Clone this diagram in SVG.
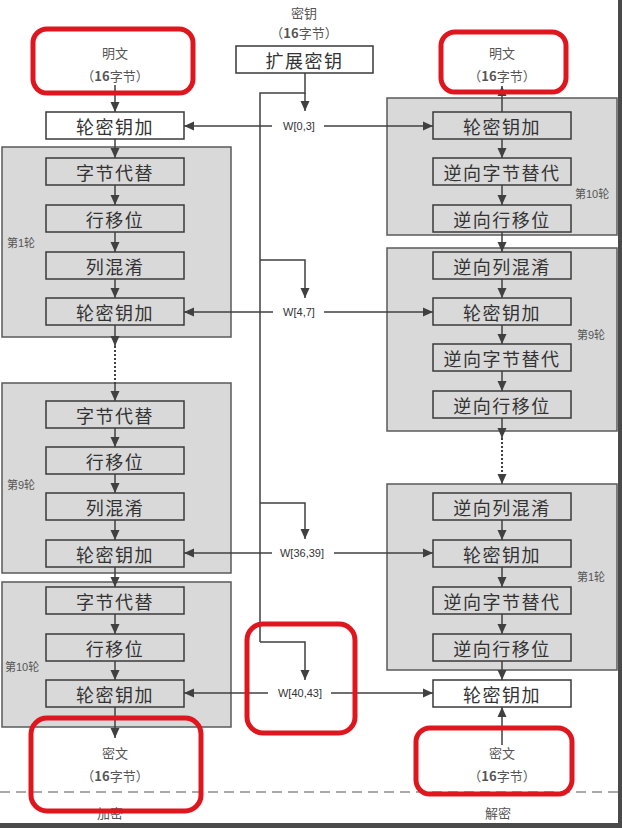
<svg xmlns="http://www.w3.org/2000/svg" width="622" height="828" viewBox="0 0 622 828">
<defs>
<marker id="ah" viewBox="0 0 10 10" refX="10" refY="5" markerWidth="10" markerHeight="10" markerUnits="userSpaceOnUse" orient="auto">
<path d="M0,0.5 L10,5 L0,9.5 z" fill="#404040"/>
</marker>
<style>
.panel{fill:#d9d9d9;stroke:#5a5a5a;stroke-width:1.5}
.box{fill:#d9d9d9;stroke:#3a3a3a;stroke-width:1.5}
.wbox{fill:#ffffff;stroke:#3a3a3a;stroke-width:1.5}
.bt{font-family:"Noto Sans CJK SC",sans-serif;font-size:18px;fill:#333;text-anchor:middle;dominant-baseline:central;letter-spacing:1.5px}
.st{font-family:"Noto Sans CJK SC",sans-serif;font-size:13px;fill:#555;text-anchor:middle;dominant-baseline:central}
.rl{font-family:"Liberation Sans","Noto Sans CJK SC",sans-serif;font-size:11px;fill:#555;dominant-baseline:central}
.wl{font-family:"Liberation Sans",sans-serif;font-size:11px;fill:#333;text-anchor:middle;dominant-baseline:central}
.ln{stroke:#404040;stroke-width:1.5;fill:none}
.ar{stroke:#404040;stroke-width:1.5;fill:none;marker-end:url(#ah)}
.dt{stroke:#404040;stroke-width:2;fill:none;stroke-dasharray:2 2}
.red{fill:none;stroke:#e0161e;stroke-width:5}
</style>
</defs>
<rect width="622" height="828" fill="#ffffff"/>

<!-- panels -->
<g id="enc-round1"><rect class="panel" x="2" y="147" width="229" height="190"/><text class="rl" x="7" y="243">第1轮</text></g>
<g id="enc-round9"><rect class="panel" x="2" y="383" width="229" height="190"/><text class="rl" x="7" y="485">第9轮</text></g>
<g id="enc-round10"><rect class="panel" x="2" y="582" width="229" height="145"/><text class="rl" x="5" y="667">第10轮</text></g>
<g id="dec-round10"><rect class="panel" x="387" y="98" width="230" height="137"/><text class="rl" x="575" y="194">第10轮</text></g>
<g id="dec-round9"><rect class="panel" x="387" y="248" width="230" height="183"/><text class="rl" x="577" y="335">第9轮</text></g>
<g id="dec-round1"><rect class="panel" x="387" y="484" width="230" height="186"/><text class="rl" x="577" y="577">第1轮</text></g>

<!-- key source -->
<g id="key"><text class="st" x="304" y="12">密钥</text><text class="st" x="304" y="32">（<tspan font-weight="bold">16</tspan>字节）</text></g>
<g id="expand-key"><rect class="wbox" x="236" y="46" width="137" height="27"/><text class="bt" x="304.5" y="59.5">扩展密钥</text></g>

<!-- encryption column -->
<g id="enc-plain"><text class="st" x="115" y="52">明文</text><text class="st" x="115" y="75">（<tspan font-weight="bold">16</tspan>字节）</text></g>
<g id="enc-ark0"><rect class="wbox" x="46" y="112" width="138" height="27"/><text class="bt" x="115" y="125.5">轮密钥加</text></g>
<g id="enc-r1-sb"><rect class="box" x="46" y="158" width="138" height="27"/><text class="bt" x="115" y="171.5">字节代替</text></g>
<g id="enc-r1-sr"><rect class="box" x="46" y="205" width="138" height="27"/><text class="bt" x="115" y="218.5">行移位</text></g>
<g id="enc-r1-mc"><rect class="box" x="46" y="252" width="138" height="27"/><text class="bt" x="115" y="265.5">列混淆</text></g>
<g id="enc-r1-ark"><rect class="box" x="46" y="298" width="138" height="27"/><text class="bt" x="115" y="311.5">轮密钥加</text></g>
<g id="enc-r9-sb"><rect class="box" x="46" y="401" width="138" height="27"/><text class="bt" x="115" y="414.5">字节代替</text></g>
<g id="enc-r9-sr"><rect class="box" x="46" y="447" width="138" height="27"/><text class="bt" x="115" y="460.5">行移位</text></g>
<g id="enc-r9-mc"><rect class="box" x="46" y="493" width="138" height="27"/><text class="bt" x="115" y="506.5">列混淆</text></g>
<g id="enc-r9-ark"><rect class="box" x="46" y="540" width="138" height="27"/><text class="bt" x="115" y="553.5">轮密钥加</text></g>
<g id="enc-r10-sb"><rect class="box" x="46" y="587" width="138" height="27"/><text class="bt" x="115" y="600.5">字节代替</text></g>
<g id="enc-r10-sr"><rect class="box" x="46" y="634" width="138" height="27"/><text class="bt" x="115" y="647.5">行移位</text></g>
<g id="enc-r10-ark"><rect class="box" x="46" y="680" width="138" height="27"/><text class="bt" x="115" y="693.5">轮密钥加</text></g>
<g id="enc-cipher"><text class="st" x="115" y="752">密文</text><text class="st" x="115" y="775">（<tspan font-weight="bold">16</tspan>字节）</text></g>

<!-- decryption column -->
<g id="dec-plain"><text class="st" x="502" y="52">明文</text><text class="st" x="502" y="75">（<tspan font-weight="bold">16</tspan>字节）</text></g>
<g id="dec-r10-ark"><rect class="box" x="433" y="112" width="138" height="27"/><text class="bt" x="502" y="125.5">轮密钥加</text></g>
<g id="dec-r10-isb"><rect class="box" x="433" y="158" width="138" height="27"/><text class="bt" x="502" y="171.5">逆向字节替代</text></g>
<g id="dec-r10-isr"><rect class="box" x="433" y="205" width="138" height="27"/><text class="bt" x="502" y="218.5">逆向行移位</text></g>
<g id="dec-r9-imc"><rect class="box" x="433" y="252" width="138" height="27"/><text class="bt" x="502" y="265.5">逆向列混淆</text></g>
<g id="dec-r9-ark"><rect class="box" x="433" y="298" width="138" height="27"/><text class="bt" x="502" y="311.5">轮密钥加</text></g>
<g id="dec-r9-isb"><rect class="box" x="433" y="344" width="138" height="27"/><text class="bt" x="502" y="357.5">逆向字节替代</text></g>
<g id="dec-r9-isr"><rect class="box" x="433" y="391" width="138" height="27"/><text class="bt" x="502" y="404.5">逆向行移位</text></g>
<g id="dec-r1-imc"><rect class="box" x="433" y="493" width="138" height="27"/><text class="bt" x="502" y="506.5">逆向列混淆</text></g>
<g id="dec-r1-ark"><rect class="box" x="433" y="540" width="138" height="27"/><text class="bt" x="502" y="553.5">轮密钥加</text></g>
<g id="dec-r1-isb"><rect class="box" x="433" y="587" width="138" height="27"/><text class="bt" x="502" y="600.5">逆向字节替代</text></g>
<g id="dec-r1-isr"><rect class="box" x="433" y="634" width="138" height="27"/><text class="bt" x="502" y="647.5">逆向行移位</text></g>
<g id="dec-ark0"><rect class="wbox" x="433" y="680" width="138" height="27"/><text class="bt" x="502" y="693.5">轮密钥加</text></g>
<g id="dec-cipher"><text class="st" x="502" y="752">密文</text><text class="st" x="502" y="775">（<tspan font-weight="bold">16</tspan>字节）</text></g>

<!-- key words -->
<g id="w0"><text class="wl" x="299" y="126">W[0,3]</text></g>
<g id="w4"><text class="wl" x="299" y="312">W[4,7]</text></g>
<g id="w36"><text class="wl" x="302" y="553">W[36,39]</text></g>
<g id="w40"><text class="wl" x="300" y="693">W[40,43]</text></g>

<!-- connectors -->
<g id="connectors">
<!-- encryption vertical -->
<line class="ar" x1="115" y1="85" x2="115" y2="112"/>
<line class="ar" x1="115" y1="139" x2="115" y2="158"/>
<line class="ar" x1="115" y1="185" x2="115" y2="205"/>
<line class="ar" x1="115" y1="232" x2="115" y2="252"/>
<line class="ar" x1="115" y1="279" x2="115" y2="298"/>
<line class="ar" x1="115" y1="325" x2="115" y2="346"/>
<line class="dt" x1="115" y1="346" x2="115" y2="384"/>
<line class="ar" x1="115" y1="383" x2="115" y2="401"/>
<line class="ar" x1="115" y1="428" x2="115" y2="447"/>
<line class="ar" x1="115" y1="474" x2="115" y2="493"/>
<line class="ar" x1="115" y1="520" x2="115" y2="540"/>
<line class="ar" x1="115" y1="567" x2="115" y2="587"/>
<line class="ar" x1="115" y1="614" x2="115" y2="634"/>
<line class="ar" x1="115" y1="661" x2="115" y2="680"/>
<line class="ar" x1="115" y1="707" x2="115" y2="738"/>
<!-- decryption vertical -->
<line class="ar" x1="502" y1="112" x2="502" y2="86"/>
<line class="ar" x1="502" y1="139" x2="502" y2="158"/>
<line class="ar" x1="502" y1="185" x2="502" y2="205"/>
<line class="ar" x1="502" y1="232" x2="502" y2="252"/>
<line class="ar" x1="502" y1="279" x2="502" y2="298"/>
<line class="ar" x1="502" y1="325" x2="502" y2="344"/>
<line class="ar" x1="502" y1="371" x2="502" y2="391"/>
<line class="ar" x1="502" y1="418" x2="502" y2="438"/>
<line class="dt" x1="502" y1="438" x2="502" y2="476"/>
<line class="ar" x1="502" y1="474" x2="502" y2="484"/>
<line class="ar" x1="502" y1="520" x2="502" y2="540"/>
<line class="ar" x1="502" y1="567" x2="502" y2="587"/>
<line class="ar" x1="502" y1="614" x2="502" y2="634"/>
<line class="ar" x1="502" y1="661" x2="502" y2="680"/>
<line class="ar" x1="502" y1="745" x2="502" y2="707"/>
<!-- key schedule -->
<polyline class="ln" points="305,73 305,93 260,93 260,642"/>
<line class="ar" x1="305" y1="93" x2="305" y2="111"/>
<polyline class="ar" points="260,260 305,260 305,298"/>
<polyline class="ar" points="260,503 305,503 305,539"/>
<polyline class="ar" points="260,642 305,642 305,680"/>
<!-- horizontals -->
<line class="ar" x1="272" y1="126" x2="184" y2="126"/>
<line class="ar" x1="324" y1="126" x2="433" y2="126"/>
<line class="ar" x1="273" y1="312" x2="184" y2="312"/>
<line class="ar" x1="324" y1="312" x2="433" y2="312"/>
<line class="ar" x1="272" y1="553" x2="184" y2="553"/>
<line class="ar" x1="334" y1="553" x2="433" y2="553"/>
<line class="ar" x1="268" y1="693" x2="184" y2="693"/>
<line class="ar" x1="331" y1="693" x2="433" y2="693"/>
</g>

<!-- separator -->
<line x1="0" y1="792" x2="618" y2="792" stroke="#555" stroke-width="1.2" stroke-dasharray="10 6"/>
<text class="st" x="110" y="812">加密</text>
<text class="st" x="498" y="812">解密</text>

<!-- highlights -->
<g id="highlights">
<rect class="red" x="33" y="29" width="160" height="64" rx="14"/>
<rect class="red" x="441" y="32" width="125" height="60" rx="14"/>
<rect class="red" x="31" y="718" width="170" height="93" rx="16"/>
<rect class="red" x="247" y="624" width="108" height="109" rx="16"/>
<rect class="red" x="416" y="728" width="156" height="66" rx="14"/>
</g>

<!-- frame -->
<rect x="618" y="0" width="4" height="828" fill="#4a4a4a"/>
<rect x="0" y="823" width="622" height="5" fill="#4a4a4a"/>
</svg>
